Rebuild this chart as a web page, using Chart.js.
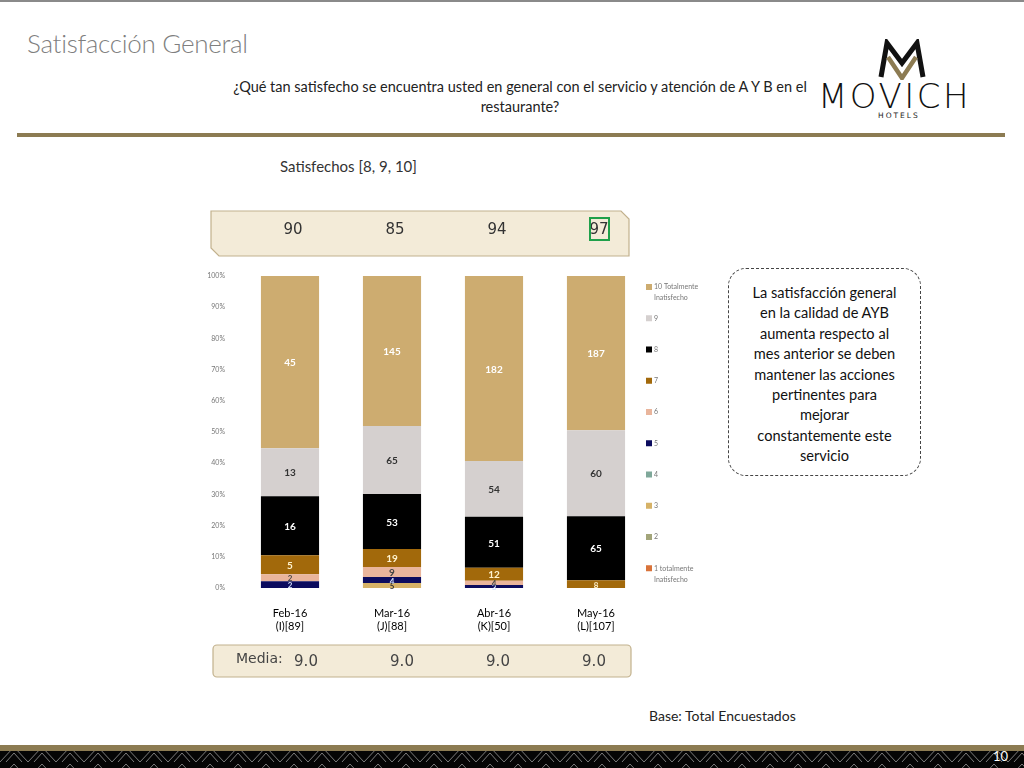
<!DOCTYPE html>
<html>
<head>
<meta charset="utf-8">
<script src="https://cdn.jsdelivr.net/npm/chart.js@4.4.1/dist/chart.umd.min.js"></script>
<style>
  body { margin: 0; width: 1024px; height: 768px; position: relative; overflow: hidden; background: #fff; font-family: Lato, "Open Sans", sans-serif; }
  .abs { position: absolute; }
  #topline { left: 0; top: 0; width: 1024px; height: 2px; background: #8a8a8a; }
  #title { left: 27px; top: 27px; font-size: 26px; color: #7f7f7f; font-weight: 300; letter-spacing: -0.3px; }
  #question { left: 212px; top: 77px; width: 616px; text-align: center; font-size: 14.5px; line-height: 20px; color: #222; }
  #goldline { left: 17px; top: 133px; width: 988px; height: 4px; background: #8c7b52; }
  #satis { left: 280px; top: 157px; font-size: 15px; color: #333; }
  #note { left: 728px; top: 268px; width: 193px; height: 208px; border: 1.5px dashed #444; border-radius: 18px; box-sizing: border-box; text-align: center; font-size: 14.6px; line-height: 20.4px; color: #111; padding-top: 14px; }
  #base { left: 649px; top: 707px; font-size: 14px; color: #222; }
  #canvasWrap { left: 200px; top: 200px; width: 510px; height: 485px; }
  #pagenum { left: 993px; top: 748px; font-size: 13px; color: #fff; }
  #movich { left: 818px; top: 76px; font-size: 34px; letter-spacing: 2.5px; color: #111; font-family: "DejaVu Sans", sans-serif; font-weight: 300; line-height: 40px; }
  #hotels { left: 878px; top: 111px; font-size: 7.5px; letter-spacing: 2px; color: #222; font-family: "DejaVu Sans", sans-serif; line-height: 9px; }
</style>
</head>
<body>
<div id="topline" class="abs"></div>
<div id="title" class="abs">Satisfacción General</div>
<div id="question" class="abs">¿Qué tan satisfecho se encuentra usted en general con el servicio y atención de A Y B en el restaurante?</div>
<svg class="abs" style="left:877px;top:39px" width="50" height="41" viewBox="0 0 50 41">
  <polyline points="4,38 10,4 25,24 40,4 46,38" fill="none" stroke="#111" stroke-width="5" stroke-linejoin="miter"/>
  <polyline points="11,18 25,39 39,18" fill="none" stroke="#8c7b52" stroke-width="4.5"/>
</svg>
<div id="movich" class="abs">MOVICH</div>
<div id="hotels" class="abs">HOTELS</div>
<div id="goldline" class="abs"></div>
<div id="satis" class="abs">Satisfechos [8, 9, 10]</div>
<div id="canvasWrap" class="abs"><canvas id="chart" width="510" height="485"></canvas></div>
<div id="note" class="abs">La satisfacción general<br>en la calidad de AYB<br>aumenta respecto al<br>mes anterior se deben<br>mantener las acciones<br>pertinentes para<br>mejorar<br>constantemente este<br>servicio</div>
<div id="base" class="abs">Base: Total Encuestados</div>
<svg class="abs" style="left:0;top:745px" width="1024" height="23">
  <defs>
    <pattern id="tri" x="0" y="0" width="28" height="17" patternUnits="userSpaceOnUse">
      <rect width="28" height="17" fill="#050505"/>
      <path d="M0,17 L14,2 L28,17 M6,17 L14,8 L22,17" fill="none" stroke="#7a7a7a" stroke-width="1"/>
    </pattern>
  </defs>
  <rect x="0" y="0" width="1024" height="6" fill="#8c7b52"/>
  <rect x="0" y="6" width="1024" height="17" fill="url(#tri)"/>
</svg>
<div id="pagenum" class="abs">10</div>

<script>
// meses y base de cada ola
const months = [['Feb-16', '(I)[89]'], ['Mar-16', '(J)[88]'], ['Abr-16', '(K)[50]'], ['May-16', '(L)[107]']];
const satisfied = [90, 85, 94, 97];
const media = ['9.0', '9.0', '9.0', '9.0'];
const highlight = 3; // recuadro verde

// nombres y colores de la escala (de 1 a 10)
const seriesNames = ['1 totalmente Inatisfecho', '2', '3', '4', '5', '6', '7', '8', '9', '10 Totalmente Inatisfecho'];
const seriesColors = ['#d9733a', '#a3a57a', '#d6b267', '#7fa89a', '#0b0b5e', '#e9b59c', '#a2690b', '#000000', '#d5d0cf', '#cdac70'];
const labelColors = ['#333', '#333', '#333', '#333', '#d6e4ff', '#444', '#fff3cf', '#ffffff', '#333', '#ffffff'];

// porcentaje de cada nivel (altura de los segmentos)
const pct1 = [0, 0, 0, 0];
const pct2 = [0, 0, 0, 0];
const pct3 = [0, 1.6, 0, 0];
const pct4 = [0, 0, 0, 0];
const pct5 = [2.2, 1.9, 1.0, 0];
const pct6 = [2.2, 3.2, 1.3, 0];
const pct7 = [6.1, 5.8, 4.2, 2.5];
const pct8 = [18.9, 17.6, 16.3, 20.5];
const pct9 = [15.4, 21.8, 17.9, 27.6];
const pct10 = [55.2, 48.1, 59.3, 49.4];

// conteos que aparecen como etiqueta
const cnt1 = [0, 0, 0, 0];
const cnt2 = [0, 0, 0, 0];
const cnt3 = [0, 5, 0, 0];
const cnt4 = [0, 0, 0, 0];
const cnt5 = [2, 4, 3, 0];
const cnt6 = [2, 9, 4, 0];
const cnt7 = [5, 19, 12, 8];
const cnt8 = [16, 53, 51, 65];
const cnt9 = [13, 65, 54, 60];
const cnt10 = [45, 145, 182, 187];

const yTicks = [0, 10, 20, 30, 40, 50, 60, 70, 80, 90, 100];

const pcts = [pct1, pct2, pct3, pct4, pct5, pct6, pct7, pct8, pct9, pct10];
const counts = [cnt1, cnt2, cnt3, cnt4, cnt5, cnt6, cnt7, cnt8, cnt9, cnt10];

const datasets = pcts.map((p, i) => ({
    label: seriesNames[i],
    data: p,
    counts: counts[i],
    backgroundColor: seriesColors[i],
    borderWidth: 0,
    barPercentage: 0.57,
    categoryPercentage: 1
}));

// etiquetas de conteo dentro de los segmentos
const segmentLabels = {
    id: 'segmentLabels',
    afterDatasetsDraw(chart) {
        const ctx = chart.ctx;
        ctx.save();
        ctx.textAlign = 'center';
        ctx.textBaseline = 'middle';
        chart.data.datasets.forEach((ds, i) => {
            chart.getDatasetMeta(i).data.forEach((bar, j) => {
                const c = ds.counts[j];
                if (!c) return;
                const h = Math.abs(bar.base - bar.y);
                ctx.font = (h < 9 ? 'bold 8px ' : 'bold 10px ') + 'Lato, sans-serif';
                ctx.fillStyle = labelColors[i];
                ctx.fillText(String(c), bar.x, (bar.y + bar.base) / 2 + 1);
            });
        });
        ctx.restore();
    }
};

// cajas de satisfechos y media, y leyenda lateral
const extras = {
    id: 'extras',
    afterDraw(chart) {
        const ctx = chart.ctx;
        const xs = chart.scales.x;
        const area = chart.chartArea;
        ctx.save();

        // caja superior con esquinas cortadas
        ctx.beginPath();
        ctx.moveTo(11, 11); ctx.lineTo(421, 11); ctx.lineTo(429, 19);
        ctx.lineTo(429, 56); ctx.lineTo(19, 56); ctx.lineTo(11, 48); ctx.closePath();
        ctx.fillStyle = '#f3ebd8';
        ctx.fill();
        ctx.strokeStyle = '#c2b18d';
        ctx.lineWidth = 1.2;
        ctx.stroke();

        ctx.font = '15px "DejaVu Sans", sans-serif';
        ctx.fillStyle = '#333';
        ctx.textAlign = 'center';
        ctx.textBaseline = 'middle';
        satisfied.forEach((v, i) => {
            const x = xs.getPixelForValue(i) + 3;
            ctx.fillText(String(v), x, 30);
            if (i === highlight) {
                ctx.strokeStyle = '#1fa04a';
                ctx.lineWidth = 2;
                ctx.strokeRect(x - 9, 18, 19, 22);
            }
        });

        // caja de media
        ctx.beginPath();
        ctx.roundRect(13, 445, 418, 32, 4);
        ctx.fillStyle = '#f3ebd8';
        ctx.fill();
        ctx.strokeStyle = '#c2b18d';
        ctx.lineWidth = 1.2;
        ctx.stroke();
        ctx.fillStyle = '#444';
        ctx.textAlign = 'left';
        ctx.font = '14px "DejaVu Sans", sans-serif';
        ctx.fillText('Media:', 36, 459);
        ctx.textAlign = 'center';
        ctx.font = '15px "DejaVu Sans", sans-serif';
        media.forEach((v, i) => {
            ctx.fillText(v, xs.getPixelForValue(i) + 16 - i * 6, 462);
        });

        // leyenda (10 arriba, 1 abajo)
        const step = (area.bottom - area.top - 12) / 9.6;
        ctx.textAlign = 'left';
        ctx.font = '7px Lato, sans-serif';
        for (let k = 0; k < 10; k++) {
            const i = 9 - k;
            const y = area.top + 11 + k * step;
            ctx.fillStyle = seriesColors[i];
            ctx.fillRect(area.right - 1, y - 3, 6, 6);
            ctx.fillStyle = '#777';
            const words = seriesNames[i].split(' ');
            if (words.length > 2) {
                ctx.fillText(words.slice(0, 2).join(' '), area.right + 7, y);
                ctx.fillText(words.slice(2).join(' '), area.right + 7, y + 11);
            } else {
                ctx.fillText(seriesNames[i], area.right + 7, y);
            }
        }
        ctx.restore();
    }
};

var ctx = document.getElementById('chart').getContext('2d');
var chart = new Chart(ctx, {
    type: 'bar',
    data: { labels: months, datasets: datasets },
    options: {
        responsive: false,
        animation: false,
        layout: { padding: { top: 76, right: 63, bottom: 52, left: 0 } },
        plugins: { legend: { display: false }, tooltip: { enabled: false } },
        scales: {
            x: {
                stacked: true,
                grid: { display: false },
                border: { display: false },
                ticks: { color: '#000', font: { family: 'Lato', size: 11 }, padding: 11 },
                afterFit: s => { s.height = 45; }
            },
            y: {
                stacked: true,
                min: 0,
                max: 100,
                grid: { display: false },
                border: { display: false },
                afterBuildTicks: s => { s.ticks = yTicks.map(v => ({ value: v })); },
                ticks: { color: '#777', font: { family: 'Lato', size: 7 }, padding: 6, callback: v => v + '%' },
                afterFit: s => { s.width = 39; }
            }
        }
    },
    plugins: [segmentLabels, extras]
});
</script>
</body>
</html>
